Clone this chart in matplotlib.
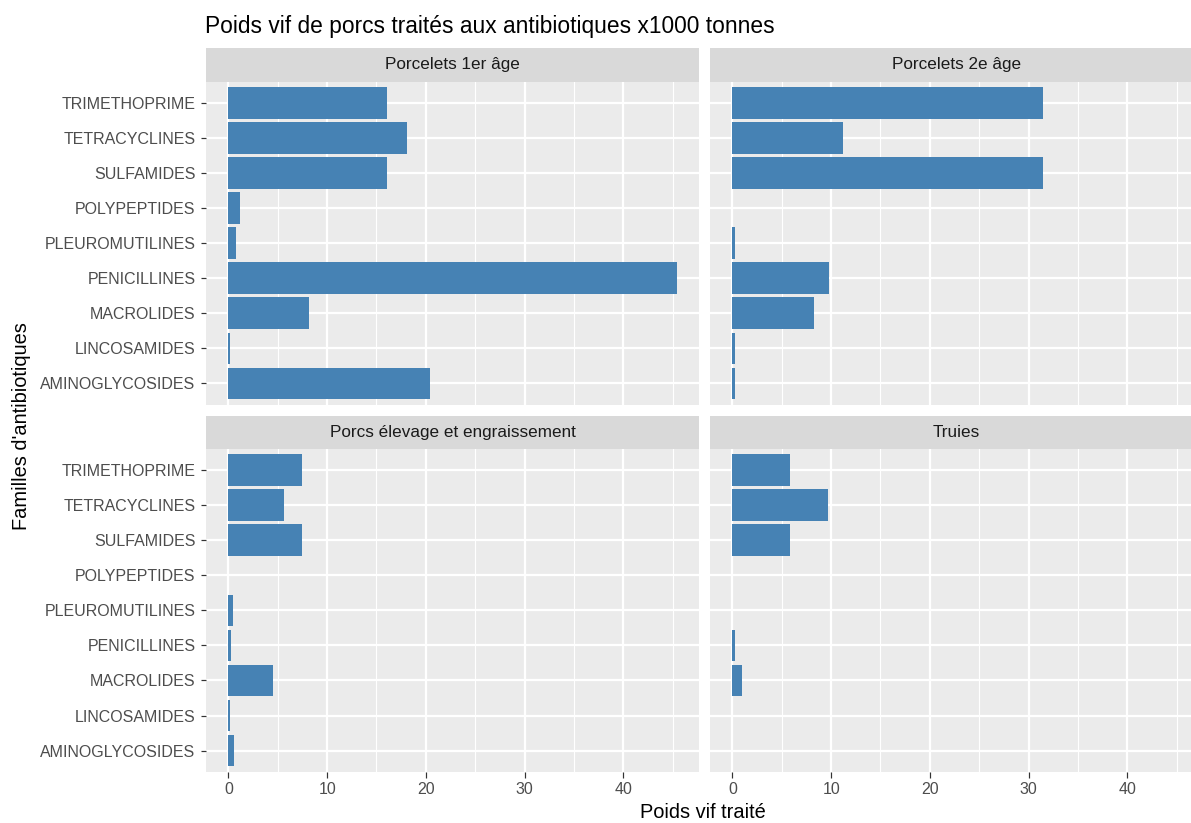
import numpy as np
import matplotlib
matplotlib.use("Agg")
import matplotlib.pyplot as plt

plt.rcParams['font.family'] = ['Liberation Sans', 'DejaVu Sans']

categories = ["AMINOGLYCOSIDES", "LINCOSAMIDES", "MACROLIDES", "PENICILLINES",
              "PLEUROMUTILINES", "POLYPEPTIDES", "SULFAMIDES", "TETRACYCLINES",
              "TRIMETHOPRIME"]
facets = ["Porcelets 1er âge", "Porcelets 2e âge",
          "Porcs élevage et engraissement", "Truies"]
porcelets_1er = [20.4, 0.2, 8.2, 45.4, 0.8, 1.2, 16.1, 18.1, 16.1]
porcelets_2e = [0.3, 0.3, 8.3, 9.8, 0.3, None, 31.5, 11.25, 31.5]
porcs_engr = [0.6, 0.2, 4.55, 0.3, 0.5, None, 7.5, 5.6, 7.5]
truies = [None, None, 1.0, 0.3, None, None, 5.8, 9.7, 5.8]
series = [porcelets_1er, porcelets_2e, porcs_engr, truies]
x_ticks = [0, 10, 20, 30, 40]
x_minor = [5, 15, 25, 35, 45]

W, H, DPI = 1191, 823, 144
fig = plt.figure(figsize=(W / DPI, H / DPI), dpi=DPI)
fig.patch.set_facecolor("white")

def rect(l, t, w, h):
    return [l / W, 1 - (t + h) / H, w / W, h / H]

panel_w, panel_h, strip_h = 493, 322.8, 33.4
lefts = [206, 710]
tops = [81.7, 448.9]

allvals = [v for s in series for v in s if v is not None]
xmax = max(allvals)
xlo, xhi = -0.05 * xmax, xmax * 1.05

for i, (name, vals) in enumerate(zip(facets, series)):
    r, c = divmod(i, 2)
    l, t = lefts[c], tops[r]
    ax = fig.add_axes(rect(l, t, panel_w, panel_h))
    ax.set_facecolor("#EBEBEB")
    for s in ax.spines.values():
        s.set_visible(False)
    ax.set_xlim(xlo, xhi)
    ax.set_ylim(-0.6, len(categories) - 0.4)
    for xm in x_minor:
        ax.axvline(xm, color="white", lw=0.55, zorder=0.5)
    for xm in x_ticks:
        ax.axvline(xm, color="white", lw=1.1, zorder=0.6)
    ypos = np.arange(len(categories))
    for yy in ypos:
        ax.axhline(yy, color="white", lw=1.1, zorder=0.6)
    yv = [y for y, v in zip(ypos, vals) if v is not None]
    vv = [v for v in vals if v is not None]
    ax.barh(yv, vv, height=0.9, color="#4682B4", linewidth=0, zorder=2)
    ax.set_xticks(x_ticks)
    ax.set_yticks(ypos)
    ax.tick_params(axis="both", length=2.75, width=0.6, color="#333333",
                   labelsize=8.0, labelcolor="#4D4D4D", pad=2.4)
    if c == 0:
        ax.set_yticklabels(categories)
    else:
        ax.tick_params(axis="y", length=0, labelleft=False)
    if r == 0:
        ax.tick_params(axis="x", length=0, labelbottom=False)
    else:
        ax.set_xticklabels([str(x) for x in x_ticks])
    sax = fig.add_axes(rect(l, t - strip_h, panel_w, strip_h))
    sax.set_facecolor("#D9D9D9")
    sax.set_xticks([])
    sax.set_yticks([])
    for s in sax.spines.values():
        s.set_visible(False)
    sax.text(0.5, 0.5, name, ha="center", va="center", fontsize=8.55,
             color="#1A1A1A", transform=sax.transAxes)

fig.text(205 / W, 1 - 27 / H, "Poids vif de porcs traités aux antibiotiques x1000 tonnes",
         ha="left", va="center", fontsize=11.4, color="black")
fig.text(703 / W, 1 - 812 / H, "Poids vif traité", ha="center", va="center",
         fontsize=10, color="black")
fig.text(22 / W, 1 - 426 / H, "Familles d'antibiotiques", ha="center", va="center",
         rotation=90, fontsize=10, color="black")

fig.savefig("out.png", dpi=DPI)
